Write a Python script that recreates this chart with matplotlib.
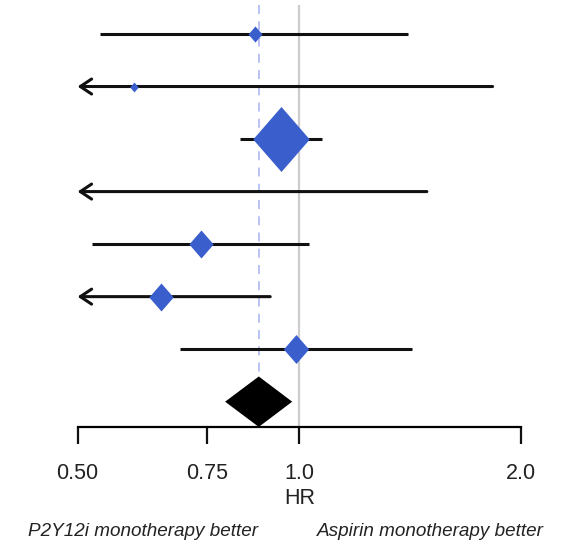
import numpy as np
import matplotlib.pyplot as plt

plt.rcParams['font.family'] = ['Liberation Sans', 'DejaVu Sans']

# --- data (hazard ratios, 95% CI, relative weight) ---
hr = [0.871, 0.596, 0.944, 0.42, 0.735, 0.649, 0.989]
lower = [0.536, 0.40, 0.831, 0.25, 0.523, 0.42, 0.689]
upper = [1.404, 1.83, 1.073, 1.49, 1.032, 0.913, 1.422]
weight = [3.7, 1.4, 60.4, 1.0, 11.2, 11.2, 12.0]
pooled = [0.881, 0.793, 0.978]  # estimate, lower, upper

ticks = [0.5, 0.75, 1.0, 2.0]
tick_labels = ["0.50", "0.75", "1.0", "2.0"]
left_text = "P2Y12i monotherapy better"
right_text = "Aspirin monotherapy better"

blue = "#3A5FCD"
x_min, x_max = ticks[0], ticks[-1]

fig = plt.figure(figsize=(5.72, 5.46), dpi=100)
ax = fig.add_axes([0, 0, 1, 1])
ax.set_xscale('log', base=2)
ax.set_xlim(2 ** -1.35, 2 ** 1.23)
ax.set_ylim(9.747, -0.647)

n = len(hr)
rows = np.arange(n)
pooled_row = n

# reference lines
ax.vlines(1.0, -0.55, 7.49, color="#CCCCCC", lw=1.6, zorder=1)
ax.vlines(pooled[0], -0.55, pooled_row - 0.48, color="#B4BEF0", lw=1.3,
          linestyles=(0, (5, 4)), zorder=1)

# confidence intervals, arrow where the CI runs past the axis
diamond = [(0, 1.15), (1, 0), (0, -1.15), (-1, 0)]
for r, est, lo, hi, w in zip(rows, hr, lower, upper, weight):
    if lo < x_min:
        ax.annotate("", xy=(x_min, r), xytext=(hi, r),
                    arrowprops=dict(arrowstyle="->,head_length=0.45,head_width=0.3",
                                    lw=2.2, color="#111111", shrinkA=0, shrinkB=0,
                                    mutation_scale=18), zorder=2)
    else:
        ax.plot([lo, hi], [r, r], color="#111111", lw=2.2, solid_capstyle="butt", zorder=2)
    if x_min <= est <= x_max:
        size = 65 * np.sqrt(w / max(weight)) * 0.72
        ax.plot(est, r, marker=diamond, markersize=size, color=blue,
                markeredgewidth=0, zorder=3)

# pooled estimate
est, lo, hi = pooled
ax.fill([lo, est, hi, est],
        [pooled_row, pooled_row - 0.48, pooled_row, pooled_row + 0.48],
        color="black", lw=0, zorder=3)

# axis
for s in ["top", "left", "right"]:
    ax.spines[s].set_visible(False)
ax.spines["bottom"].set_position(("data", 7.49))
ax.spines["bottom"].set_bounds(x_min, x_max)
ax.spines["bottom"].set_linewidth(1.6)
ax.set_xticks(ticks)
ax.set_xticklabels(tick_labels)
ax.xaxis.set_minor_locator(plt.NullLocator())
ax.tick_params(axis="x", direction="out", length=12.5, width=1.6, pad=13,
               labelsize=15.5, colors="#111111", labelcolor="#222222")
ax.set_yticks([])

ax.text(1.0, 1 - 499 / 546, "HR", transform=ax.get_xaxis_transform(),
        ha="center", va="center", fontsize=15.5, color="#222222")
fig.text(0.25, 1 - 532 / 546, left_text, ha="center", va="center",
         fontsize=13.6, style="italic", color="#222222")
fig.text(0.753, 1 - 532 / 546, right_text, ha="center", va="center",
         fontsize=13.6, style="italic", color="#222222")

fig.savefig("out.png", dpi=100)
